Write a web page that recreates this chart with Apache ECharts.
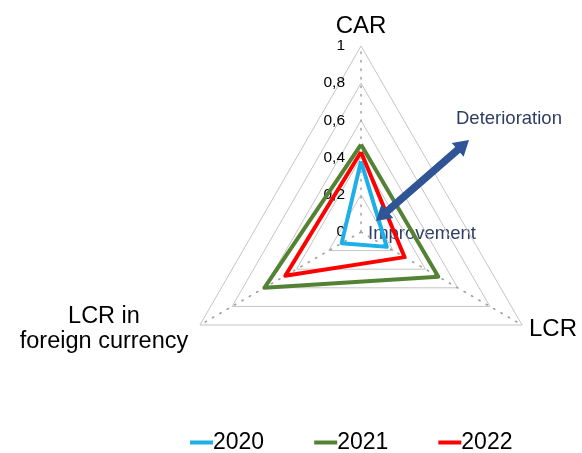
<!DOCTYPE html>
<html>
<head>
<meta charset="utf-8">
<script src="https://cdn.jsdelivr.net/npm/echarts@6/dist/echarts.min.js"></script>
<style>
  html, body { margin: 0; padding: 0; background: #fff; }
  #chart { width: 582px; height: 453px; }
</style>
</head>
<body>
<div id="chart"></div>
<script>
// 雷达图数据
var indicators = ['CAR', 'LCR', 'LCR in foreign currency'];
var years = ['2020', '2021', '2022'];
var values2020 = [0.38, 0.16, 0.12];
var values2021 = [0.47, 0.48, 0.6];
var values2022 = [0.43, 0.27, 0.47];
var colors = ['#1CAFE8', '#548235', '#FF0000'];

var chart = echarts.init(document.getElementById('chart'));

// 双向箭头（注释，不是数据）
function arrowPoints(x1, y1, x2, y2, shaft, head, headLen) {
    var dx = x2 - x1, dy = y2 - y1;
    var len = Math.sqrt(dx * dx + dy * dy);
    var ux = dx / len, uy = dy / len, nx = -uy, ny = ux;
    function p(t, w) { return [x1 + ux * t + nx * w, y1 + uy * t + ny * w]; }
    return [
        p(0, 0), p(headLen, head / 2), p(headLen, shaft / 2),
        p(len - headLen, shaft / 2), p(len - headLen, head / 2), p(len, 0),
        p(len - headLen, -head / 2), p(len - headLen, -shaft / 2),
        p(headLen, -shaft / 2), p(headLen, -head / 2)
    ];
}

var font = 'Liberation Sans, Arial, sans-serif';

var option = {
    color: colors,
    textStyle: { fontFamily: font },
    legend: {
        top: 426,
        left: 185,
        icon: 'rect',
        itemWidth: 23,
        itemHeight: 4,
        itemGap: 50,
        textStyle: { fontSize: 23, color: '#000', padding: [0, 0, 0, -5] },
        data: years
    },
    radar: {
        center: [361, 232],
        radius: 186,
        shape: 'polygon',
        startAngle: 90,
        splitNumber: 5,
        indicator: [
            { name: indicators[0], min: 0, max: 1,
              axisLabel: { show: true, color: '#000', fontSize: 15.5, margin: 16,
                           formatter: function (v) { return String(v).replace('.', ','); } } },
            { name: indicators[2], min: 0, max: 1 },
            { name: indicators[1], min: 0, max: 1 }
        ],
        axisName: {
            color: '#000',
            fontSize: 24,
            formatter: function (name) {
                if (name === indicators[2]) return '{a|LCR in}\n{a|foreign currency}';
                return name;
            },
            rich: { a: { fontSize: 23.5, width: 178, align: 'center', lineHeight: 25, color: '#000' } }
        },
        nameGap: 8,
        axisLabel: { show: false },
        axisTick: { show: false },
        axisLine: { lineStyle: { color: '#a0a0a0', width: 1.5, type: [1.5, 7] } },
        splitLine: { lineStyle: { color: '#c4c4c4', width: 1 } },
        splitArea: { show: false }
    },
    series: [{
        type: 'radar',
        symbol: 'none',
        lineStyle: { width: 4 },
        data: [
            { name: years[0], value: [values2020[0], values2020[2], values2020[1]] },
            { name: years[1], value: [values2021[0], values2021[2], values2021[1]] },
            { name: years[2], value: [values2022[0], values2022[2], values2022[1]] }
        ]
    }],
    graphic: [
        { type: 'polygon', shape: { points: arrowPoints(376, 221, 469, 140, 7.5, 18, 15) },
          style: { fill: '#2F5597' }, z: 10 },
        { type: 'text', left: 456, top: 109,
          style: { text: 'Deterioration', fontSize: 18.5, fill: '#2E3D63', fontFamily: font } },
        { type: 'text', left: 368, top: 224,
          style: { text: 'Improvement', fontSize: 18.5, fill: '#2E3D63', fontFamily: font } }
    ]
};
chart.setOption(option);
</script>
</body>
</html>
